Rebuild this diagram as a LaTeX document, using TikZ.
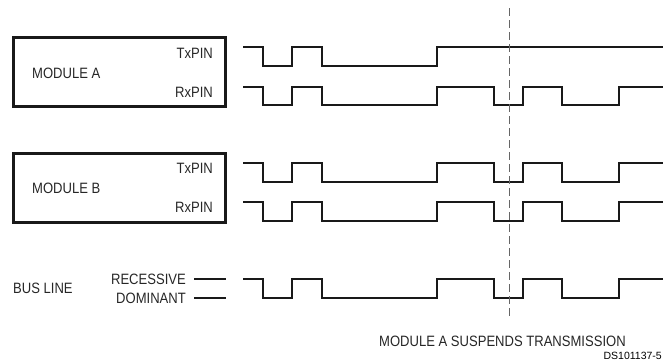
\documentclass[tikz,border=0pt]{standalone}
\usepackage{fontspec}
\setmainfont{Liberation Sans}
\newfontfamily\cadfont[FakeStretch=0.87]{Liberation Sans}
\usepackage{tikz}
\usetikzlibrary{positioning}

\newcommand\fullwave[2]{% #1 high level, #2 low level
  \draw[wave] (243,#1) -| (263,#2) -| (292,#1) -| (322,#2) -| (437,#1)
    -| (494,#2) -| (523,#1) -| (562,#2) -| (619,#1) -- (663,#1);}

\begin{document}
\begin{tikzpicture}[
    x=1pt, y=-1pt,
    lbl/.style={font=\cadfont\fontsize{15}{15}\selectfont, inner sep=0pt, text=black!85},
    modbox/.style={line width=3pt, black!90},
    wave/.style={line width=2pt, black!90},
    cut/.style={line width=1pt, black!60, dash pattern=on 8pt off 4pt}
  ]
  \useasboundingbox (0,0) rectangle (663,362);
  % modules
  \draw[modbox] (13,37) rectangle (225,106);
  \draw[modbox] (13,153) rectangle (225,222);
  \node[lbl, anchor=west] (modA) at (32,73) {MODULE A};
  \node[lbl, anchor=east] (txA) at (213,53) {TxPIN};
  \node[lbl, anchor=east] (rxA) at (213,92) {RxPIN};
  \node[lbl, anchor=west] (modB) at (32,188) {MODULE B};
  \node[lbl, anchor=east] (txB) at (213,168) {TxPIN};
  \node[lbl, anchor=east] (rxB) at (213,207) {RxPIN};
  % bus line
  \node[lbl, anchor=west] (bus) at (13,288) {BUS LINE};
  \node[lbl, anchor=east] (rec) at (186,279) {RECESSIVE};
  \node[lbl, anchor=east] (dom) at (186,298) {DOMINANT};
  \draw[wave] (194,279) -- (226,279);
  \draw[wave] (194,298) -- (226,298);
  % waveforms
  \draw[wave] (243,47) -| (263,66) -| (292,47) -| (322,66) -| (437,47) -- (663,47);
  \fullwave{87}{105}
  \fullwave{163}{182}
  \fullwave{202}{221}
  \fullwave{279}{298}
  % suspend marker
  \draw[cut] (509,8) -- (509,318);
  \node[lbl, anchor=west] (susp) at (379,341) {MODULE A SUSPENDS TRANSMISSION};
  \node[font=\fontsize{10.5}{10.5}\selectfont, inner sep=0pt, anchor=east] (ds) at (662,356) {DS101137-5};
\end{tikzpicture}
\end{document}
